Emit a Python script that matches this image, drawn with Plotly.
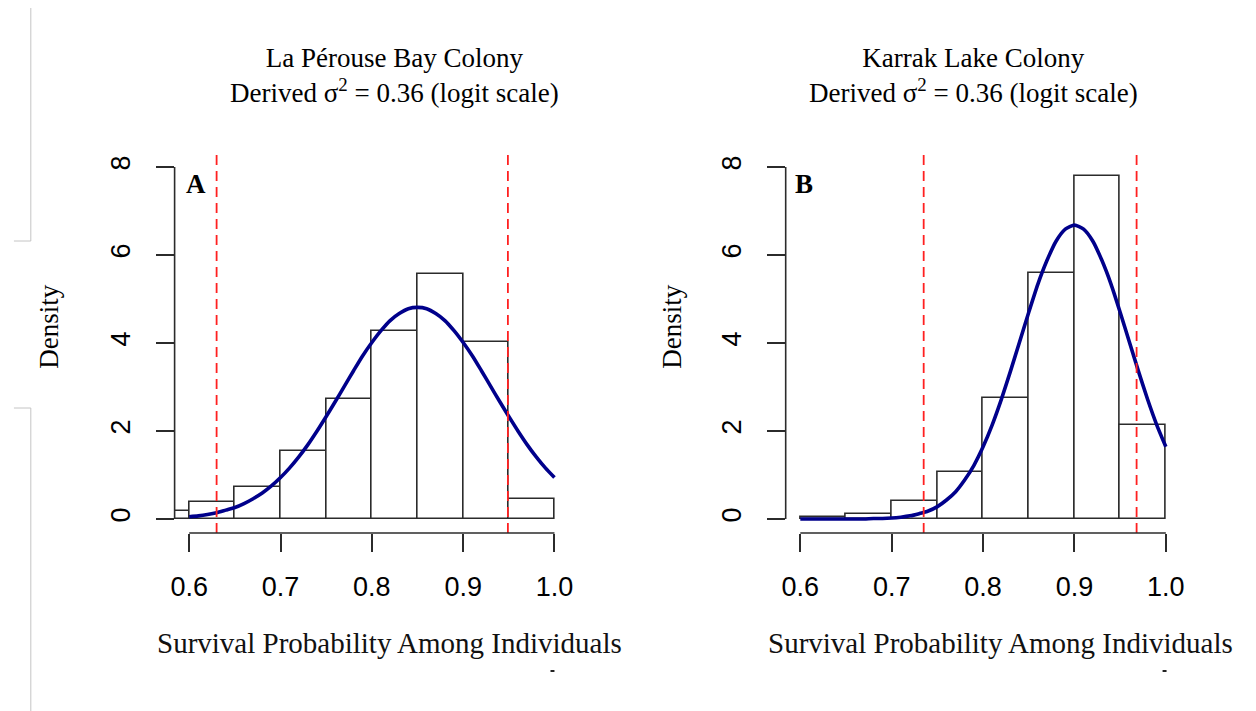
import plotly.graph_objects as go

W, H = 1256, 711

# Histogram bins (left edges, width 0.05) and densities
bin_width = 0.05
lap_bin_left = [0.55, 0.60, 0.65, 0.70, 0.75, 0.80, 0.85, 0.90, 0.95]
lap_density = [0.19, 0.38, 0.72, 1.55, 2.72, 4.27, 5.58, 4.03, 0.46]

kar_bin_left = [0.60, 0.65, 0.70, 0.75, 0.80, 0.85, 0.90, 0.95]
kar_density = [0.05, 0.12, 0.40, 1.06, 2.74, 5.60, 7.80, 2.13]

# Fitted density curves
curve_x = [0.60, 0.61, 0.62, 0.63, 0.64, 0.65, 0.66, 0.67, 0.68, 0.69, 0.70,
           0.71, 0.72, 0.73, 0.74, 0.75, 0.76, 0.77, 0.78, 0.79, 0.80,
           0.81, 0.82, 0.83, 0.84, 0.85, 0.86, 0.87, 0.88, 0.89, 0.90,
           0.91, 0.92, 0.93, 0.94, 0.95, 0.96, 0.97, 0.98, 0.99, 1.00]
lap_curve = [0.05, 0.07, 0.10, 0.14, 0.20, 0.26, 0.35, 0.46, 0.59, 0.75, 0.94,
             1.16, 1.41, 1.69, 2.00, 2.33, 2.67, 3.02, 3.37, 3.71, 4.01,
             4.28, 4.51, 4.67, 4.78, 4.81, 4.78, 4.67, 4.51, 4.28, 4.01,
             3.71, 3.37, 3.02, 2.67, 2.33, 2.00, 1.69, 1.41, 1.16, 0.94]
kar_curve = [0.00, 0.00, 0.00, 0.00, 0.00, 0.00, 0.00, 0.00, 0.01, 0.01, 0.02,
             0.04, 0.07, 0.12, 0.18, 0.28, 0.43, 0.62, 0.89, 1.22, 1.64,
             2.14, 2.72, 3.36, 4.03, 4.70, 5.34, 5.88, 6.32, 6.59, 6.68,
             6.59, 6.32, 5.88, 5.34, 4.70, 4.03, 3.36, 2.72, 2.14, 1.64]

# 95% interval limits
lap_limits = [0.630, 0.949]
kar_limits = [0.735, 0.968]

x_ticks = [0.6, 0.7, 0.8, 0.9, 1.0]
x_tick_text = ["0.6", "0.7", "0.8", "0.9", "1.0"]
y_ticks = [0, 2, 4, 6, 8]

titles = ["La Pérouse Bay Colony<br>Derived σ<sup>2</sup> = 0.36 (logit scale)",
          "Karrak Lake Colony<br>Derived σ<sup>2</sup> = 0.36 (logit scale)"]
panel_letters = ["A", "B"]
x_title = "Survival Probability Among Individuals"
y_title = "Density"

X_RANGE = [0.584, 1.016]
Y_RANGE = [-0.32, 8.32]
X_DOMS = [[171.7 / W, 568.7 / W], [786.7 / W, 1184.0 / W]]
Y_DOM = [1 - 533 / H, 1 - 153 / H]

SERIF = "Liberation Serif, Times New Roman, serif"
SANS = "Liberation Sans, Arial, sans-serif"
AXIS_COL = "#2b2b2b"


def px_x(v, dom):
    return dom[0] + (v - X_RANGE[0]) / (X_RANGE[1] - X_RANGE[0]) * (dom[1] - dom[0])


def px_y(v):
    return Y_DOM[0] + (v - Y_RANGE[0]) / (Y_RANGE[1] - Y_RANGE[0]) * (Y_DOM[1] - Y_DOM[0])


fig = go.Figure()

panels = [
    (lap_bin_left, lap_density, lap_curve, lap_limits, "x", "y"),
    (kar_bin_left, kar_density, kar_curve, kar_limits, "x2", "y2"),
]

for left, dens, curve, limits, xa, ya in panels:
    fig.add_trace(go.Bar(
        x=[b + bin_width / 2 for b in left], y=dens, width=bin_width,
        marker=dict(color="white", line=dict(color=AXIS_COL, width=1.6)),
        xaxis=xa, yaxis=ya, showlegend=False, hoverinfo="skip"))
    fig.add_trace(go.Scatter(
        x=curve_x, y=curve, mode="lines",
        line=dict(color="#00008B", width=3.6, shape="spline", smoothing=0.6),
        xaxis=xa, yaxis=ya, showlegend=False))
    for v in limits:
        fig.add_trace(go.Scatter(
            x=[v, v], y=Y_RANGE, mode="lines",
            line=dict(color="#ff2020", width=1.8, dash="10px,6px"),
            xaxis=xa, yaxis=ya, showlegend=False))

axis_common = dict(range=X_RANGE, tickvals=x_ticks, ticktext=x_tick_text,
                   ticks="outside", ticklen=18, tickwidth=1.6, tickcolor=AXIS_COL,
                   showgrid=False, zeroline=False, showline=False,
                   tickfont=dict(family=SANS, size=27, color="black"),
                   ticklabelstandoff=12, fixedrange=True)
yaxis_common = dict(range=Y_RANGE, domain=Y_DOM, tickvals=y_ticks,
                    ticks="outside", ticklen=18, tickwidth=1.6, tickcolor=AXIS_COL,
                    showgrid=False, zeroline=False, showline=False, tickangle=-90,
                    tickfont=dict(family=SANS, size=27, color="black"),
                    ticklabelstandoff=15, fixedrange=True)

fig.update_layout(
    xaxis=dict(axis_common, domain=X_DOMS[0], anchor="y"),
    yaxis=dict(yaxis_common, anchor="x"),
    xaxis2=dict(axis_common, domain=X_DOMS[1], anchor="y2"),
    yaxis2=dict(yaxis_common, anchor="x2"),
    width=W, height=H,
    margin=dict(l=0, r=0, t=0, b=0),
    paper_bgcolor="white", plot_bgcolor="white",
    bargap=0,
)

shapes = []
annotations = []
title_x = [393 / W, 976 / W]
xtitle_x = [388 / W, 1003 / W]
ytitle_x = [45 / W, 672 / W]
letter_x = [193 / W, 805 / W]

for i, dom in enumerate(X_DOMS):
    # x axis line between first and last tick
    shapes.append(dict(type="line", xref="paper", yref="paper",
                       x0=px_x(x_ticks[0], dom), x1=px_x(x_ticks[-1], dom),
                       y0=Y_DOM[0], y1=Y_DOM[0],
                       line=dict(color=AXIS_COL, width=1.6)))
    # y axis line between first and last tick
    shapes.append(dict(type="line", xref="paper", yref="paper",
                       x0=dom[0], x1=dom[0],
                       y0=px_y(y_ticks[0]), y1=px_y(y_ticks[-1]),
                       line=dict(color=AXIS_COL, width=1.6)))
    annotations.append(dict(text=titles[i], xref="paper", yref="paper",
                            x=title_x[i], y=1 - 75 / H, xanchor="center", yanchor="middle",
                            showarrow=False, align="center",
                            font=dict(family=SERIF, size=27, color="black")))
    annotations.append(dict(text=x_title, xref="paper", yref="paper",
                            x=xtitle_x[i], y=1 - 643 / H, xanchor="center", yanchor="middle",
                            showarrow=False, font=dict(family=SERIF, size=29, color="#111")))
    annotations.append(dict(text=y_title, xref="paper", yref="paper",
                            x=ytitle_x[i], y=1 - 327 / H, xanchor="center", yanchor="middle",
                            textangle=-90, showarrow=False,
                            font=dict(family=SERIF, size=27, color="black")))
    annotations.append(dict(text="<b>" + panel_letters[i] + "</b>", xref="paper", yref="paper",
                            x=letter_x[i], y=1 - 184 / H, xanchor="center", yanchor="middle",
                            showarrow=False, font=dict(family=SERIF, size=27, color="black")))

# page margin marks at the far left
gray = "#c4c4c4"
shapes += [
    dict(type="line", xref="paper", yref="paper", x0=27 / W, x1=27 / W,
         y0=1 - 8 / H, y1=1 - 241 / H, line=dict(color=gray, width=1)),
    dict(type="line", xref="paper", yref="paper", x0=10 / W, x1=27 / W,
         y0=1 - 241 / H, y1=1 - 241 / H, line=dict(color=gray, width=1)),
    dict(type="line", xref="paper", yref="paper", x0=10 / W, x1=27 / W,
         y0=1 - 408 / H, y1=1 - 408 / H, line=dict(color=gray, width=1)),
    dict(type="line", xref="paper", yref="paper", x0=27 / W, x1=27 / W,
         y0=1 - 408 / H, y1=0, line=dict(color=gray, width=1)),
]
# small clipped text fragments below the axis titles
for cx in [552, 1168]:
    shapes.append(dict(type="rect", xref="paper", yref="paper",
                       x0=(cx - 2) / W, x1=(cx + 2) / W,
                       y0=1 - 672 / H, y1=1 - 670 / H,
                       fillcolor="#222", line=dict(width=0)))

fig.update_layout(shapes=shapes, annotations=annotations)

fig.write_html("out.html")
